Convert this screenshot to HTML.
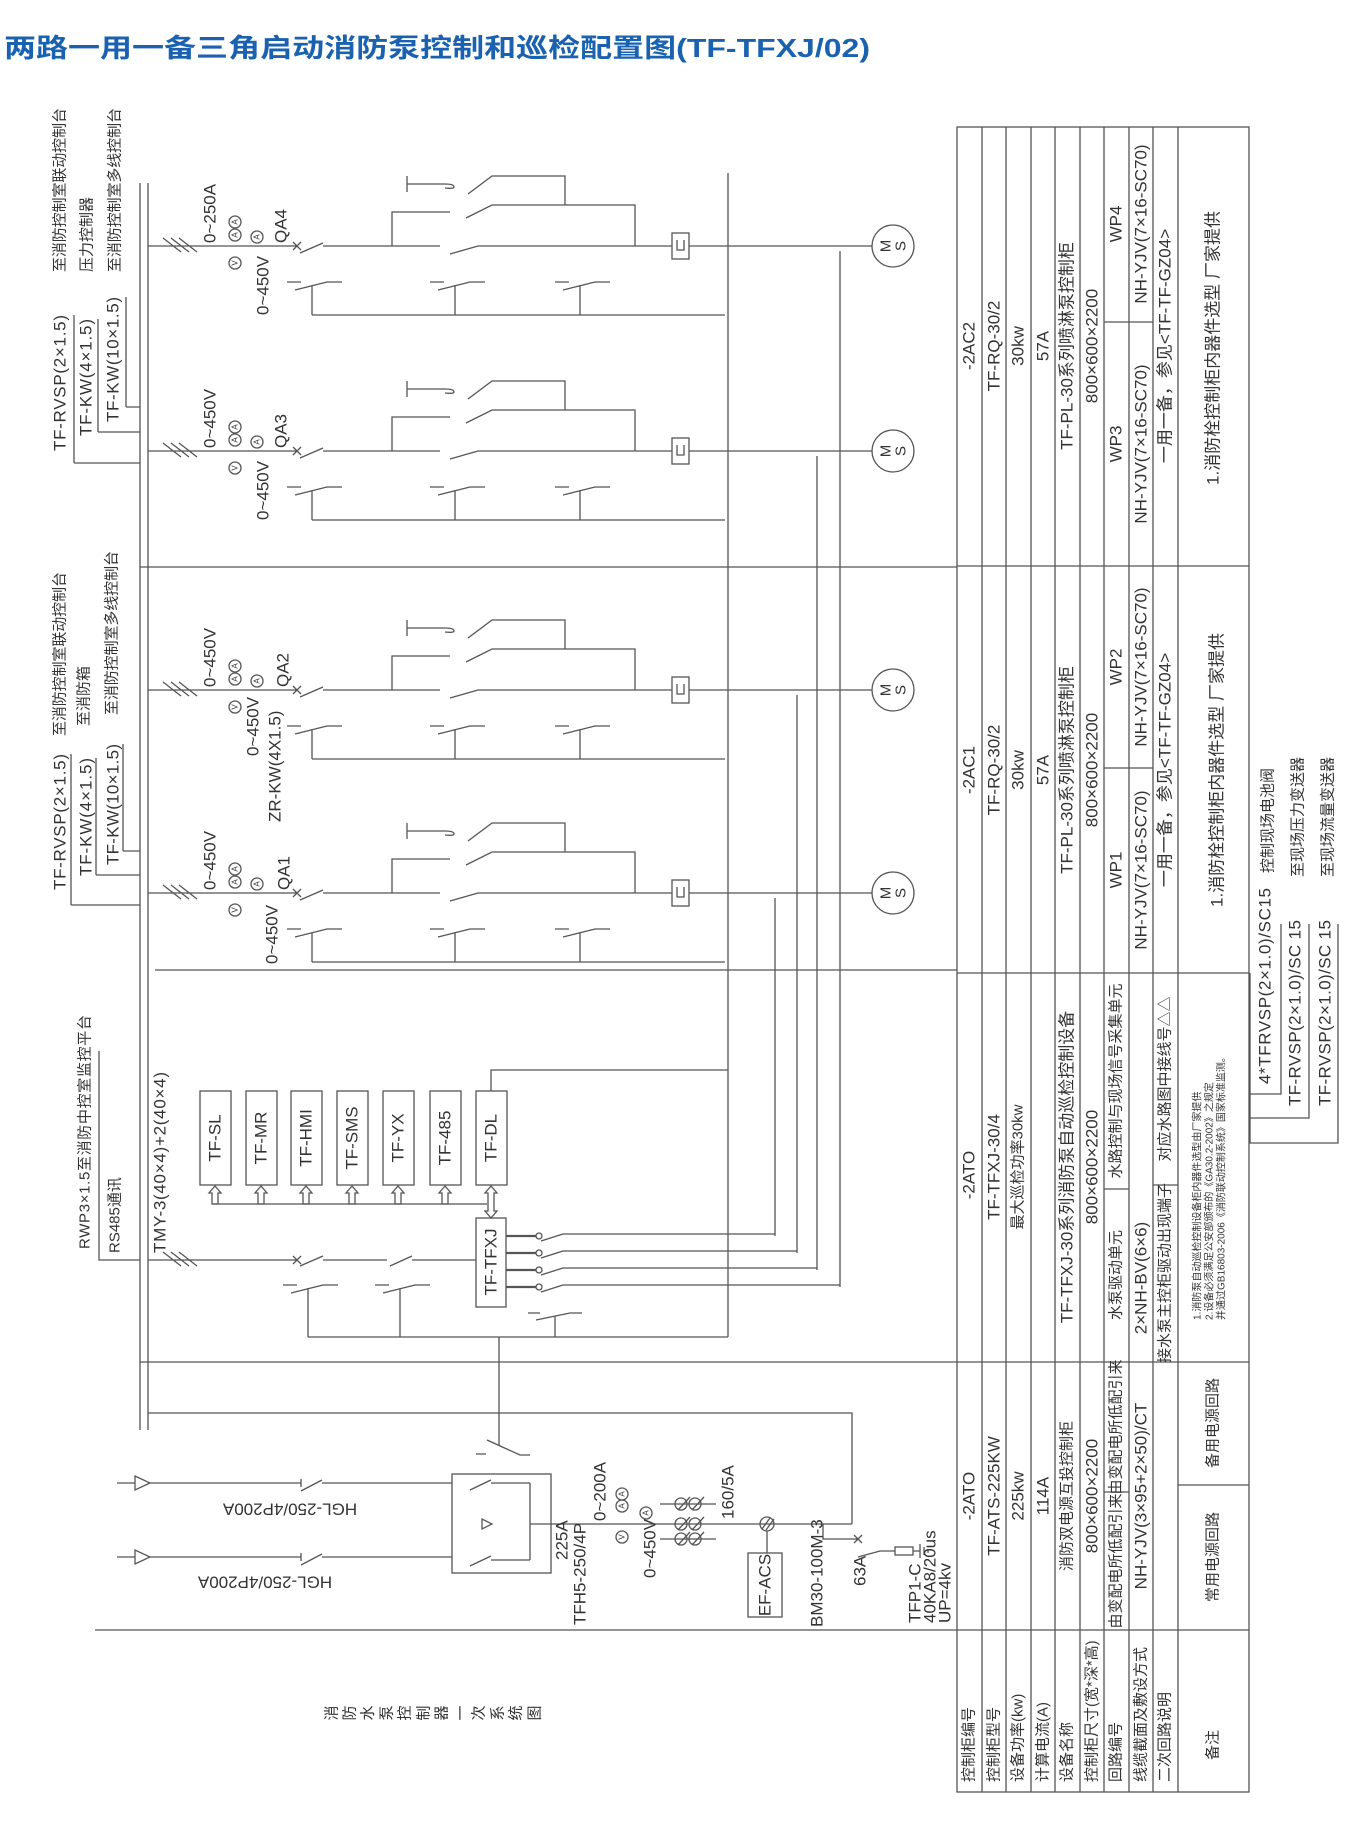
<!DOCTYPE html>
<html><head><meta charset="utf-8"><style>
html,body{margin:0;padding:0;background:#fff;}
svg{display:block;}
.l{stroke:#555;stroke-width:1.3;fill:none;}
.t{font-family:"Liberation Sans","Noto Sans CJK SC",sans-serif;font-size:17px;fill:#333;dominant-baseline:central;}
.c{font-family:"Liberation Sans","Noto Sans CJK SC",sans-serif;font-size:15px;fill:#333;dominant-baseline:central;}
.s{font-family:"Liberation Sans","Noto Sans CJK SC",sans-serif;font-size:10px;fill:#333;dominant-baseline:central;}
.m{font-family:"Liberation Sans",sans-serif;font-size:8px;fill:#333;dominant-baseline:central;text-anchor:middle;}
.mid{text-anchor:middle;}
</style></head><body>
<svg width="1372" height="1827" viewBox="0 0 1372 1827" xmlns="http://www.w3.org/2000/svg">
<rect width="1372" height="1827" fill="#fff"/>
<text x="4" y="57" font-family="'Liberation Sans','Noto Sans CJK SC',sans-serif" font-size="26" font-weight="bold" fill="#1a62b0" textLength="866" lengthAdjust="spacingAndGlyphs">两路一用一备三角启动消防泵控制和巡检配置图(TF-TFXJ/02)</text>

<!-- buses -->
<path class="l" d="M140,183V1430 M148,183V1430"/>
<!-- separators -->
<path class="l" stroke-width="1" d="M140,567H957 M155,970H957 M140,1362H957 M95,1630H957"/>

<!-- circuits -->
<g class="l">
<path d="M407,176V192 M407,184H445 M468,194L492,176H565V205 M392,246V212H450 M466,218L492,205H635V246 M148,246H297 M300,253L323,243 M323,246H440 M450,254L478,246H672 M689,246H872 M293,242L301,250 M293,250L301,242 M163,238L181,252 M171,238L189,252 M179,238L197,252 M287,282H301 M295,290L327,282H342 M312,285V315 M430,282H444 M438,290L470,282H485 M455,285V315 M555,282H569 M563,290L595,282H610 M580,285V315 M312,315H725"/>
<path d="M407,381V397 M407,389H445 M468,399L492,381H565V410 M392,451V417H450 M466,423L492,410H635V451 M148,451H297 M300,458L323,448 M323,451H440 M450,459L478,451H672 M689,451H872 M293,447L301,455 M293,455L301,447 M163,443L181,457 M171,443L189,457 M179,443L197,457 M287,487H301 M295,495L327,487H342 M312,490V520 M430,487H444 M438,495L470,487H485 M455,490V520 M555,487H569 M563,495L595,487H610 M580,490V520 M312,520H725"/>
<path d="M407,620V636 M407,628H445 M468,638L492,620H565V649 M392,690V656H450 M466,662L492,649H635V690 M148,690H297 M300,697L323,687 M323,690H440 M450,698L478,690H672 M689,690H872 M293,686L301,694 M293,694L301,686 M163,682L181,696 M171,682L189,696 M179,682L197,696 M287,726H301 M295,734L327,726H342 M312,729V759 M430,726H444 M438,734L470,726H485 M455,729V759 M555,726H569 M563,734L595,726H610 M580,729V759 M312,759H725"/>
<path d="M407,823V839 M407,831H445 M468,841L492,823H565V852 M392,893V859H450 M466,865L492,852H635V893 M148,893H297 M300,900L323,890 M323,893H440 M450,901L478,893H672 M689,893H872 M293,889L301,897 M293,897L301,889 M163,885L181,899 M171,885L189,899 M179,885L197,899 M287,929H301 M295,937L327,929H342 M312,932V962 M430,929H444 M438,937L470,929H485 M455,932V962 M555,929H569 M563,937L595,929H610 M580,932V962 M312,962H725"/>
<path d="M445,184q9,0 9,3q0,2-9,1 M445,389q9,0 9,3q0,2-9,1 M445,628q9,0 9,3q0,2-9,1 M445,831q9,0 9,3q0,2-9,1"/>
<rect x="672" y="233" width="17" height="26"/><path d="M677,240V250H684V240"/>
<rect x="672" y="438" width="17" height="26"/><path d="M677,445V455H684V445"/>
<rect x="672" y="677" width="17" height="26"/><path d="M677,684V694H684V684"/>
<rect x="672" y="880" width="17" height="26"/><path d="M677,887V897H684V887"/>
<circle cx="893" cy="246" r="21"/><circle cx="893" cy="451" r="21"/><circle cx="893" cy="690" r="21"/><circle cx="893" cy="893" r="21"/>
<!-- right verticals -->
<path d="M728,173V1337 M840,251V1287 M817,456V1270 M797,695V1253 M775,898V1236"/>
</g>
<g class="c">
<text transform="translate(886,246) rotate(-90)" class="mid">M</text><text transform="translate(901,246) rotate(-90)" class="mid">S</text>
<text transform="translate(886,451) rotate(-90)" class="mid">M</text><text transform="translate(901,451) rotate(-90)" class="mid">S</text>
<text transform="translate(886,690) rotate(-90)" class="mid">M</text><text transform="translate(901,690) rotate(-90)" class="mid">S</text>
<text transform="translate(886,893) rotate(-90)" class="mid">M</text><text transform="translate(901,893) rotate(-90)" class="mid">S</text>
</g>

<!-- meter circles -->
<g class="l" stroke-width="1">
<circle cx="235" cy="222" r="6"/><circle cx="235" cy="235" r="6"/><circle cx="257" cy="237" r="6"/><circle cx="235" cy="263" r="6"/>
<circle cx="235" cy="427" r="6"/><circle cx="235" cy="440" r="6"/><circle cx="257" cy="442" r="6"/><circle cx="235" cy="468" r="6"/>
<circle cx="235" cy="666" r="6"/><circle cx="235" cy="679" r="6"/><circle cx="257" cy="681" r="6"/><circle cx="235" cy="707" r="6"/>
<circle cx="235" cy="869" r="6"/><circle cx="235" cy="882" r="6"/><circle cx="257" cy="884" r="6"/><circle cx="235" cy="910" r="6"/>
</g>
<g class="m">
<text transform="translate(235,222) rotate(-90)">A</text><text transform="translate(235,235) rotate(-90)">A</text><text transform="translate(257,237) rotate(-90)">A</text><text transform="translate(235,263) rotate(-90)">V</text>
<text transform="translate(235,427) rotate(-90)">A</text><text transform="translate(235,440) rotate(-90)">A</text><text transform="translate(257,442) rotate(-90)">A</text><text transform="translate(235,468) rotate(-90)">V</text>
<text transform="translate(235,666) rotate(-90)">A</text><text transform="translate(235,679) rotate(-90)">A</text><text transform="translate(257,681) rotate(-90)">A</text><text transform="translate(235,707) rotate(-90)">V</text>
<text transform="translate(235,869) rotate(-90)">A</text><text transform="translate(235,882) rotate(-90)">A</text><text transform="translate(257,884) rotate(-90)">A</text><text transform="translate(235,910) rotate(-90)">V</text>
</g>
<g class="t">
<text transform="translate(210,243) rotate(-90)">0~250A</text>
<text transform="translate(263,315) rotate(-90)">0~450V</text>
<text transform="translate(281,243) rotate(-90)">QA4</text>
<text transform="translate(210,448) rotate(-90)">0~450V</text>
<text transform="translate(263,520) rotate(-90)">0~450V</text>
<text transform="translate(281,448) rotate(-90)">QA3</text>
<text transform="translate(210,687) rotate(-90)">0~450V</text>
<text transform="translate(253,756) rotate(-90)">0~450V</text>
<text transform="translate(283,687) rotate(-90)">QA2</text>
<text transform="translate(275,822) rotate(-90)">ZR-KW(4X1.5)</text>
<text transform="translate(210,890) rotate(-90)">0~450V</text>
<text transform="translate(272,964) rotate(-90)">0~450V</text>
<text transform="translate(284,890) rotate(-90)">QA1</text>
</g>

<!-- left label groups -->
<g class="c">
<text transform="translate(60,272) rotate(-90)" textLength="164">至消防控制室联动控制台</text>
<text transform="translate(87,272) rotate(-90)">压力控制器</text>
<text transform="translate(115,272) rotate(-90)" textLength="164">至消防控制室多线控制台</text>
<text transform="translate(60,736) rotate(-90)" textLength="164">至消防控制室联动控制台</text>
<text transform="translate(84,726) rotate(-90)">至消防箱</text>
<text transform="translate(112,715) rotate(-90)" textLength="164">至消防控制室多线控制台</text>
<text transform="translate(85,1249) rotate(-90)" textLength="234">RWP3×1.5至消防中控室监控平台</text>
<text transform="translate(115,1253) rotate(-90)">RS485通讯</text>
</g>
<g class="t">
<text transform="translate(60,451) rotate(-90)" textLength="136">TF-RVSP(2×1.5)</text>
<text transform="translate(86,436) rotate(-90)" textLength="117">TF-KW(4×1.5)</text>
<text transform="translate(113,422) rotate(-90)" textLength="125">TF-KW(10×1.5)</text>
<text transform="translate(60,890) rotate(-90)" textLength="136">TF-RVSP(2×1.5)</text>
<text transform="translate(86,876) rotate(-90)" textLength="118">TF-KW(4×1.5)</text>
<text transform="translate(113,865) rotate(-90)" textLength="121">TF-KW(10×1.5)</text>
<text transform="translate(160,1253) rotate(-90)" textLength="181">TMY-3(40×4)+2(40×4)</text>
</g>
<path class="l" stroke-width="1" d="M74,463V315 M74,463H140 M98,432V319 M98,432H140 M126,407V297 M126,407H140 M71,905V754 M71,905H140 M96,875V758 M96,875H140 M123,851V744 M123,851H140 M99,1051V1260H140"/>

<!-- TFXJ section -->
<g class="l">
<rect x="200" y="1091" width="31" height="94"/><rect x="246" y="1091" width="31" height="94"/><rect x="291" y="1091" width="31" height="94"/><rect x="337" y="1091" width="31" height="94"/><rect x="383" y="1091" width="31" height="94"/><rect x="430" y="1091" width="31" height="94"/><rect x="476" y="1091" width="31" height="94"/>
<rect x="476" y="1218" width="30" height="89"/>
<path d="M213,1204H487 M491,1091V1070H728"/>
<path d="M215,1186l-6,7h3v11h6v-11h3z M261,1186l-6,7h3v11h6v-11h3z M306,1186l-6,7h3v11h6v-11h3z M352,1186l-6,7h3v11h6v-11h3z M398,1186l-6,7h3v11h6v-11h3z M445,1186l-6,7h3v11h6v-11h3z"/>
<path d="M491,1186l-6,7h3v18h-3l6,7l6,-7h-3v-18h3z"/>
<path d="M148,1260H297 M293,1256L301,1264 M293,1264L301,1256 M300,1266L323,1256 M323,1260H387 M390,1266L412,1256 M412,1260H476 M163,1252L181,1266 M171,1252L189,1266 M179,1252L197,1266"/>
<path d="M283,1285H297 M291,1293L323,1285H338 M308,1288V1337 M375,1285H389 M383,1293L415,1285H430 M400,1288V1337 M528,1313H540 M536,1320L570,1313H582 M555,1316V1337 M308,1337H728"/>
<path d="M563,1234H775 M563,1251H797 M563,1268H817 M563,1285H840 M541,1241L563,1234 M541,1258L563,1251 M541,1275L563,1268 M541,1292L563,1285"/>
<path stroke-width="2.2" d="M506,1236H536 M506,1253H536 M506,1270H536 M506,1287H536"/>
<circle cx="539" cy="1236" r="3"/><circle cx="539" cy="1253" r="3"/><circle cx="539" cy="1270" r="3"/><circle cx="539" cy="1287" r="3"/>
<path d="M499,1337V1445 M487,1440L520,1455H530 M476,1454H486"/>
</g>
<g class="t">
<text transform="translate(215,1138) rotate(-90)" class="mid">TF-SL</text>
<text transform="translate(261,1138) rotate(-90)" class="mid">TF-MR</text>
<text transform="translate(306,1138) rotate(-90)" class="mid">TF-HMI</text>
<text transform="translate(352,1138) rotate(-90)" class="mid">TF-SMS</text>
<text transform="translate(398,1138) rotate(-90)" class="mid">TF-YX</text>
<text transform="translate(445,1138) rotate(-90)" class="mid">TF-485</text>
<text transform="translate(491,1138) rotate(-90)" class="mid">TF-DL</text>
<text transform="translate(491,1262) rotate(-90)" class="mid">TF-TFXJ</text>
</g>

<!-- power section -->
<g class="l">
<path d="M148,1413H852V1524 M530,1524H852"/>
<rect x="452" y="1474" width="99" height="99"/>
<path d="M530,1483V1560 M491,1483H530 M491,1560H530 M470,1490L491,1480 M470,1566L491,1556 M482,1519L482,1529L492,1524Z"/>
<path d="M117,1483H135 M135,1476L135,1490L150,1483Z M150,1483H301 M301,1479V1487 M301,1491L322,1480 M322,1483H452"/>
<path d="M117,1557H135 M135,1550L135,1564L150,1557Z M150,1557H301 M301,1553V1561 M301,1565L322,1554 M322,1557H452"/>
<path d="M660,1504H716 M660,1539H716"/>
<circle cx="681" cy="1504" r="6"/><circle cx="695" cy="1504" r="6"/>
<circle cx="681" cy="1524" r="6"/><circle cx="695" cy="1524" r="6"/>
<circle cx="681" cy="1539" r="6"/><circle cx="695" cy="1539" r="6"/>
<path d="M678,1510L690,1497 M692,1510L704,1497 M678,1530L690,1517 M692,1530L704,1517 M678,1545L690,1532 M692,1545L704,1532"/>
<circle cx="767" cy="1524" r="7"/><path d="M762,1529L770,1518 M766,1530L774,1519 M767,1531V1553"/>
<rect x="748" y="1553" width="34" height="64"/>
<path d="M823,1524V1539H858 M854,1535L862,1543 M854,1543L862,1535 M858,1557L880,1551H895 M913,1551H920 M920,1544V1558 M924,1547V1555 M928,1549V1553"/>
<rect x="895" y="1547" width="18" height="8"/>
<circle cx="622" cy="1494" r="6"/><circle cx="622" cy="1506" r="6"/><circle cx="646" cy="1513" r="6"/><circle cx="622" cy="1537" r="6"/>
</g>
<g class="m">
<text transform="translate(622,1494) rotate(-90)">A</text><text transform="translate(622,1506) rotate(-90)">A</text><text transform="translate(646,1513) rotate(-90)">A</text><text transform="translate(622,1537) rotate(-90)">V</text>
</g>
<g class="t">
<text transform="translate(290,1509) rotate(180)" class="mid">HGL-250/4P200A</text>
<text transform="translate(265,1582) rotate(180)" class="mid">HGL-250/4P200A</text>
<text transform="translate(562,1560) rotate(-90)">225A</text>
<text transform="translate(580,1625) rotate(-90)">TFH5-250/4P</text>
<text transform="translate(600,1521) rotate(-90)">0~200A</text>
<text transform="translate(650,1578) rotate(-90)">0~450V</text>
<text transform="translate(728,1519) rotate(-90)">160/5A</text>
<text transform="translate(765,1585) rotate(-90)" class="mid">EF-ACS</text>
<text transform="translate(817,1627) rotate(-90)">BM30-100M-3</text>
<text transform="translate(860,1586) rotate(-90)">63A</text>
<text transform="translate(915,1623) rotate(-90)">TFP1-C</text>
<text transform="translate(930,1623) rotate(-90)">40KA8/20us</text>
<text transform="translate(945,1623) rotate(-90)">UP=4kv</text>
</g>
<g class="c">
<text transform="translate(332,1713) rotate(-90)" class="mid">消</text>
<text transform="translate(350,1713) rotate(-90)" class="mid">防</text>
<text transform="translate(368,1713) rotate(-90)" class="mid">水</text>
<text transform="translate(387,1713) rotate(-90)" class="mid">泵</text>
<text transform="translate(405,1713) rotate(-90)" class="mid">控</text>
<text transform="translate(424,1713) rotate(-90)" class="mid">制</text>
<text transform="translate(442,1713) rotate(-90)" class="mid">器</text>
<text transform="translate(461,1713) rotate(-90)" class="mid">一</text>
<text transform="translate(479,1713) rotate(-90)" class="mid">次</text>
<text transform="translate(498,1713) rotate(-90)" class="mid">系</text>
<text transform="translate(516,1713) rotate(-90)" class="mid">统</text>
<text transform="translate(535,1713) rotate(-90)" class="mid">图</text>
</g>

<!-- table -->
<g class="l" stroke-width="1.1">
<rect x="957" y="127" width="292" height="1665"/>
<path d="M982,127V1792 M1006,127V1792 M1031,127V1792 M1055,127V1792 M1080,127V1792 M1104,127V1792 M1129,127V1792 M1153,127V1792 M1178,127V1792"/>
<path d="M957,566H1249 M957,973H1249 M957,1362H1249 M957,1630H1249"/>
<path d="M1104,322H1153 M1104,768H1153 M1104,1189H1129 M1153,1185H1178 M1104,1492H1129 M1178,1485H1249"/>
<path d="M1250,973V1143H1338V924 M1250,1118H1309V924 M1250,1094H1281V924"/>
</g>
<g class="t">
<text transform="translate(969,346) rotate(-90)" class="mid">-2AC2</text>
<text transform="translate(994,346) rotate(-90)" class="mid">TF-RQ-30/2</text>
<text transform="translate(1018,346) rotate(-90)" class="mid">30kw</text>
<text transform="translate(1043,346) rotate(-90)" class="mid">57A</text>
<text transform="translate(1067,346) rotate(-90)" class="mid">TF-PL-30系列喷淋泵控制柜</text>
<text transform="translate(1092,346) rotate(-90)" class="mid">800×600×2200</text>
<text transform="translate(1116,444) rotate(-90)" class="mid">WP3</text>
<text transform="translate(1116,224) rotate(-90)" class="mid">WP4</text>
<text transform="translate(1141,444) rotate(-90)" class="mid">NH-YJV(7×16-SC70)</text>
<text transform="translate(1141,224) rotate(-90)" class="mid">NH-YJV(7×16-SC70)</text>
<text transform="translate(1165,346) rotate(-90)" class="mid">一用一备，参见&lt;TF-TF-GZ04&gt;</text>
<text transform="translate(1213,348) rotate(-90)" class="mid">1.消防栓控制柜内器件选型 厂家提供</text>

<text transform="translate(969,770) rotate(-90)" class="mid">-2AC1</text>
<text transform="translate(994,770) rotate(-90)" class="mid">TF-RQ-30/2</text>
<text transform="translate(1018,770) rotate(-90)" class="mid">30kw</text>
<text transform="translate(1043,770) rotate(-90)" class="mid">57A</text>
<text transform="translate(1067,770) rotate(-90)" class="mid">TF-PL-30系列喷淋泵控制柜</text>
<text transform="translate(1092,770) rotate(-90)" class="mid">800×600×2200</text>
<text transform="translate(1116,870) rotate(-90)" class="mid">WP1</text>
<text transform="translate(1116,667) rotate(-90)" class="mid">WP2</text>
<text transform="translate(1141,870) rotate(-90)" class="mid">NH-YJV(7×16-SC70)</text>
<text transform="translate(1141,667) rotate(-90)" class="mid">NH-YJV(7×16-SC70)</text>
<text transform="translate(1165,770) rotate(-90)" class="mid">一用一备，参见&lt;TF-TF-GZ04&gt;</text>
<text transform="translate(1217,770) rotate(-90)" class="mid">1.消防栓控制柜内器件选型 厂家提供</text>

<text transform="translate(969,1175) rotate(-90)" class="mid">-2ATO</text>
<text transform="translate(994,1167) rotate(-90)" class="mid">TF-TFXJ-30/4</text>
<text transform="translate(1067,1167) rotate(-90)" class="mid">TF-TFXJ-30系列消防泵自动巡检控制设备</text>
<text transform="translate(1092,1167) rotate(-90)" class="mid">800×600×2200</text>
<text transform="translate(1141,1278) rotate(-90)" class="mid">2×NH-BV(6×6)</text>

<text transform="translate(969,1496) rotate(-90)" class="mid">-2ATO</text>
<text transform="translate(994,1496) rotate(-90)" class="mid">TF-ATS-225KW</text>
<text transform="translate(1018,1496) rotate(-90)" class="mid">225kw</text>
<text transform="translate(1043,1496) rotate(-90)" class="mid">114A</text>
<text transform="translate(1092,1496) rotate(-90)" class="mid">800×600×2200</text>
<text transform="translate(1141,1496) rotate(-90)" class="mid">NH-YJV(3×95+2×50)/CT</text>

<text transform="translate(1265,1084) rotate(-90)" textLength="196">4*TFRVSP(2×1.0)/SC15</text>
<text transform="translate(1295,1106) rotate(-90)" textLength="186">TF-RVSP(2×1.0)/SC 15</text>
<text transform="translate(1325,1106) rotate(-90)" textLength="186">TF-RVSP(2×1.0)/SC 15</text>
</g>
<g class="c">
<text transform="translate(1018,1167) rotate(-90)" class="mid">最大巡检功率30kw</text>
<text transform="translate(1116,1275) rotate(-90)" class="mid">水泵驱动单元</text>
<text transform="translate(1116,1081) rotate(-90)" class="mid">水路控制与现场信号采集单元</text>
<text transform="translate(1165,1273) rotate(-90)" class="mid">接水泵主控柜驱动出现端子</text>
<text transform="translate(1165,1079) rotate(-90)" class="mid">对应水路图中接线号△△</text>
<text transform="translate(1067,1496) rotate(-90)" class="mid">消防双电源互投控制柜</text>
<text transform="translate(1116,1561) rotate(-90)" class="mid">由变配电所低配引来</text>
<text transform="translate(1116,1427) rotate(-90)" class="mid">由变配电所低配引来</text>
<text transform="translate(1213,1557) rotate(-90)" class="mid">常用电源回路</text>
<text transform="translate(1213,1423) rotate(-90)" class="mid">备用电源回路</text>
<text transform="translate(1268,873) rotate(-90)">控制现场电池阀</text>
<text transform="translate(1298,877) rotate(-90)">至现场压力变送器</text>
<text transform="translate(1328,877) rotate(-90)">至现场流量变送器</text>

<text transform="translate(969,1782) rotate(-90)">控制柜编号</text>
<text transform="translate(994,1782) rotate(-90)">控制柜型号</text>
<text transform="translate(1018,1782) rotate(-90)">设备功率(kw)</text>
<text transform="translate(1043,1782) rotate(-90)">计算电流(A)</text>
<text transform="translate(1067,1782) rotate(-90)">设备名称</text>
<text transform="translate(1092,1782) rotate(-90)">控制柜尺寸(宽*深*高)</text>
<text transform="translate(1116,1782) rotate(-90)">回路编号</text>
<text transform="translate(1141,1782) rotate(-90)">线缆截面及敷设方式</text>
<text transform="translate(1165,1782) rotate(-90)">二次回路说明</text>
<text transform="translate(1213,1745) rotate(-90)" class="mid">备注</text>
</g>
<g class="s">
<text transform="translate(1198,1320) rotate(-90)">1.消防泵自动巡检控制设备柜内器件选型由厂家提供</text>
<text transform="translate(1210,1320) rotate(-90)">2.设备必须满足公安部颁布的《GA30.2-2002》之规定</text>
<text transform="translate(1222,1320) rotate(-90)">并通过GB16803-2006《消防联动控制系统》国家标准监测。</text>
</g>
</svg>
</body></html>
